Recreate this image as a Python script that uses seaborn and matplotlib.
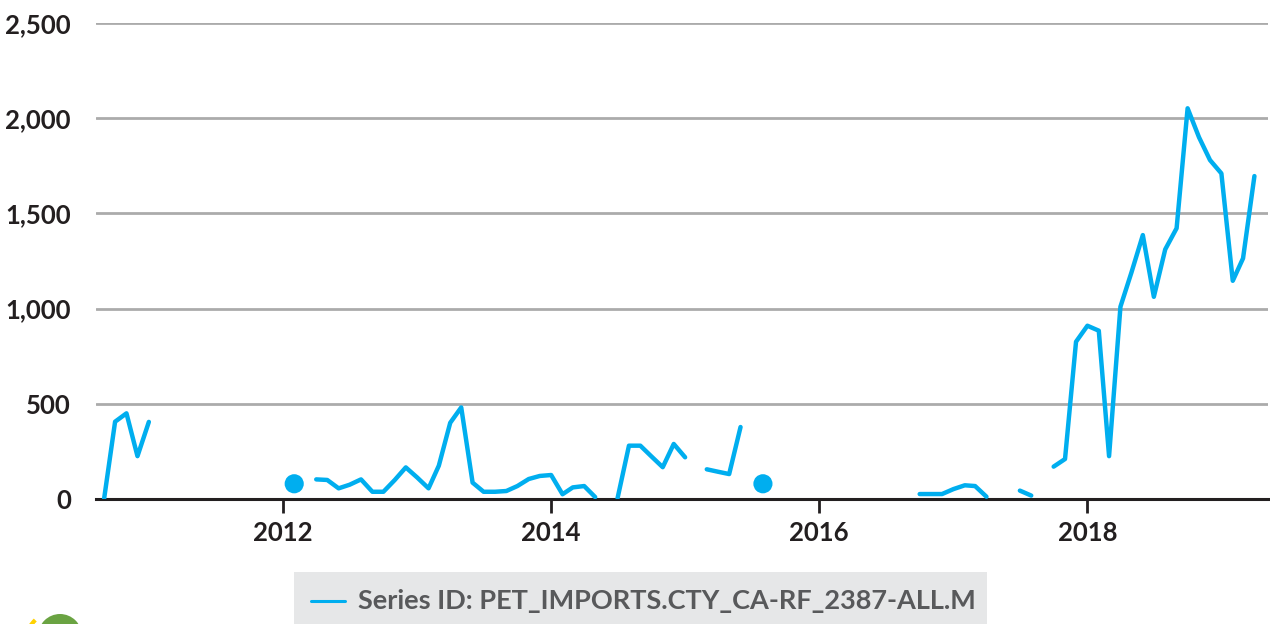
import matplotlib
matplotlib.use("Agg")
import matplotlib.pyplot as plt
import matplotlib.dates as mdates
import matplotlib.ticker as mticker
from matplotlib.patches import Rectangle, Ellipse, Arc
from matplotlib.lines import Line2D
import seaborn as sns
import pandas as pd
import numpy as np

# monthly imports (thousand barrels), None = nothing reported that month
SERIES_ID = "PET_IMPORTS.CTY_CA-RF_2387-ALL.M"
FIRST_MONTH = "2010-09-01"
v2010 = [0, 406, 450, 225]                                                  # Sep-Dec
v2011 = [405, None, None, None, None, None, None, None, None, None, None, None]
v2012 = [None, 80, None, 103, 100, 56, 75, 103, 38, 38, 100, 166]
v2013 = [113, 56, 175, 400, 481, 86, 38, 38, 42, 68, 105, 121]
v2014 = [126, 25, 61, 68, 10, None, 5, 280, 280, 224, 167, 289]
v2015 = [219, None, 156, 143, 131, 378, None, 80, None, None, None, None]
v2016 = [None, None, None, None, None, None, None, None, None, 26, 26, 26]
v2017 = [52, 72, 68, 12, None, None, 44, 18, None, 170, 210, 826]
v2018 = [910, 884, 225, 1010, 1190, 1386, 1062, 1311, 1422, 2052, 1900, 1780]
v2019 = [1710, 1146, 1264, 1696]                                            # Jan-Apr

YTICKS = [0, 500, 1000, 1500, 2000, 2500]

BLUE = "#00aeef"
DARK = "#231f20"

values = v2010 + v2011 + v2012 + v2013 + v2014 + v2015 + v2016 + v2017 + v2018 + v2019
df = pd.DataFrame({
    "date": pd.date_range(FIRST_MONTH, periods=len(values), freq="MS"),
    "value": pd.to_numeric(pd.Series(values, dtype="object"), errors="coerce"),
})
# split into runs of consecutive reported months
df["seg"] = df["value"].isna().cumsum()
df = df.dropna(subset=["value"])
sizes = df.groupby("seg")["value"].transform("size")
runs = df[sizes > 1]
singles = df[sizes == 1]

sns.set_theme(style="white")
plt.rcParams["font.family"] = ["Lato", "DejaVu Sans"]

fig = plt.figure(figsize=(12.7, 6.24), dpi=100)
ax = fig.add_axes([96 / 1270, 125 / 624, 1172 / 1270, 476 / 624])

sns.lineplot(data=runs, x="date", y="value", units="seg", estimator=None,
             color=BLUE, linewidth=3.2, solid_capstyle="round",
             solid_joinstyle="round", ax=ax, legend=False, zorder=3)
sns.scatterplot(data=singles, x="date", y="value", color=BLUE, s=190,
                edgecolor="none", ax=ax, legend=False, zorder=3)

ax.set_xlim(pd.Timestamp("2010-08-10"), pd.Timestamp("2019-05-08"))
ax.set_ylim(0, 2500)
ax.set_yticks(YTICKS)
ax.yaxis.set_major_formatter(mticker.FuncFormatter(lambda v, p: f"{v:,.0f}"))
ax.xaxis.set_major_locator(mdates.YearLocator(2))
ax.xaxis.set_major_formatter(mdates.DateFormatter("%Y"))
ax.set_xlabel("")
ax.set_ylabel("")

ax.yaxis.grid(True, color="#ababab", linewidth=2)
ax.xaxis.grid(False)
ax.set_axisbelow(True)
for side in ["left", "top", "right"]:
    ax.spines[side].set_visible(False)
ax.spines["bottom"].set_color(DARK)
ax.spines["bottom"].set_linewidth(2.2)
ax.spines["bottom"].set_zorder(2)

ax.tick_params(axis="y", length=0, pad=18, labelsize=18.5, labelcolor=DARK)
ax.tick_params(axis="x", direction="out", length=10, width=2, color=DARK,
               pad=6, labelsize=18.5, labelcolor=DARK, bottom=True)
for lab in ax.get_xticklabels() + ax.get_yticklabels():
    lab.set_fontweight("bold")

# legend strip at the bottom (runs off the canvas as in the source)
fig.add_artist(Rectangle((294 / 1270, -0.05), 693 / 1270, 0.05 + 52 / 624,
                         transform=fig.transFigure, facecolor="#e6e7e8",
                         edgecolor="none"))
fig.add_artist(Line2D([311 / 1270, 345 / 1270], [23 / 624, 23 / 624],
                      transform=fig.transFigure, color=BLUE, linewidth=2.2))
fig.text(358 / 1270, 23 / 624, f"Series ID: {SERIES_ID}", fontsize=19.5,
         fontweight="bold", color="#58595b", va="center", ha="left")

# corner of the logo peeking in at the bottom left
fig.add_artist(Ellipse((60 / 1270, -12 / 624), 44 / 1270, 44 / 624,
                       transform=fig.transFigure, facecolor="#6aa342",
                       edgecolor="none"))
fig.add_artist(Arc((58 / 1270, -20 / 624), 66 / 1270, 66 / 624, theta1=115,
                   theta2=150, transform=fig.transFigure, color="#ffd200",
                   linewidth=3))

fig.savefig("out.png", dpi=100)
